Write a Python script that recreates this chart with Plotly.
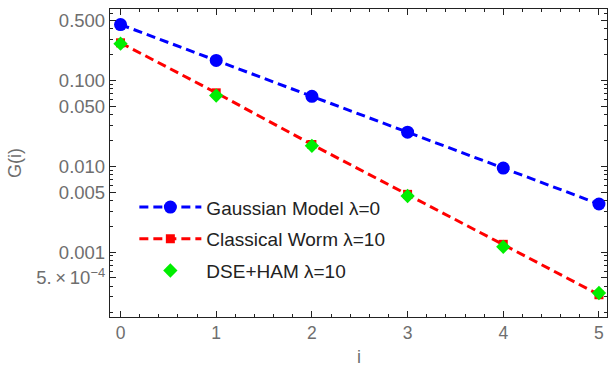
import plotly.graph_objects as go
import numpy as np

i_vals = [0, 1, 2, 3, 4, 5]
gauss = [0.447, 0.171, 0.0652, 0.0249, 0.00951, 0.00363]
worm = [0.274, 0.0716, 0.0179, 0.0047, 0.00123, 0.000318]
dse = [0.268, 0.0666, 0.0173, 0.0045, 0.00115, 0.000333]

y_tickvals = [0.5, 0.1, 0.05, 0.01, 0.005, 0.001, 0.0005]
y_ticktext = ["0.500", "0.100", "0.050", "0.010", "0.005", "0.001", "5.\u2009\u00d7\u200910<sup>\u22124</sup>"]
x_tickvals = [0, 1, 2, 3, 4, 5]

minor_y = []
for k in [-4, -3, -2, -1]:
    for m in [2, 3, 4, 6, 7, 8, 9]:
        minor_y.append(m * 10.0 ** k)

GRAY = "#6e6e6e"
FONT = "Liberation Sans, Arial, sans-serif"

fig = go.Figure()
fig.add_trace(go.Scatter(
    x=i_vals, y=gauss, mode="lines+markers", name="Gaussian Model \u03bb=0",
    line=dict(color="#0000ff", width=3, dash="9px,5px"),
    marker=dict(symbol="circle", size=13, color="#0000ff"),
    legendgroup="a"))
fig.add_trace(go.Scatter(
    x=i_vals, y=worm, mode="lines+markers", name="Classical Worm \u03bb=10",
    line=dict(color="#ff0000", width=3, dash="9px,5px"),
    marker=dict(symbol="square", size=9, color="#ff0000"),
    legendgroup="b"))
fig.add_trace(go.Scatter(
    x=i_vals, y=dse, mode="markers", name="DSE+HAM \u03bb=10",
    marker=dict(symbol="diamond", size=11, color="#00ee00"),
    legendgroup="c"))

fig.update_layout(
    width=609, height=369,
    margin=dict(l=110, r=2, t=9, b=52),
    plot_bgcolor="white", paper_bgcolor="white",
    font=dict(family=FONT, size=17, color=GRAY),
    legend=dict(x=0.049, y=0.418, xanchor="left", yanchor="top",
                bgcolor="rgba(0,0,0,0)", font=dict(size=19, color="#222222"),
                itemwidth=62, tracegroupgap=4, traceorder="grouped"),
    showlegend=True,
)
fig.update_xaxes(
    range=[-0.11, 5.084], tickvals=x_tickvals, ticks="inside", ticklen=6,
    tickcolor="#222", showgrid=False, zeroline=False, showline=True,
    linecolor="#222", linewidth=1.3, mirror="ticks",
    tickfont=dict(size=17.5, color=GRAY),
    minor=dict(dtick=0.2, ticks="inside", ticklen=3, tickcolor="#222", showgrid=False),
)
fig.update_yaxes(
    type="log", range=[np.log10(1.75e-4), np.log10(0.679)],
    tickvals=y_tickvals, ticktext=y_ticktext, ticks="inside", ticklen=6,
    tickcolor="#222", showgrid=False, zeroline=False, showline=True,
    linecolor="#222", linewidth=1.3, mirror="ticks",
    tickfont=dict(size=18.5, color=GRAY),
    minor=dict(tickvals=minor_y, ticks="inside", ticklen=3, tickcolor="#222", showgrid=False),
)
fig.add_annotation(text="G(i)", xref="paper", yref="paper",
                   x=(15 - 110) / 497, y=0.5, textangle=-90, showarrow=False,
                   font=dict(size=18, color=GRAY), xanchor="center", yanchor="middle")
fig.add_annotation(text="i", xref="paper", yref="paper",
                   x=(359 - 110) / 497, y=-(357 - 317) / 308, showarrow=False,
                   font=dict(size=18, color=GRAY), xanchor="center", yanchor="middle")

fig.write_html("out.html")
